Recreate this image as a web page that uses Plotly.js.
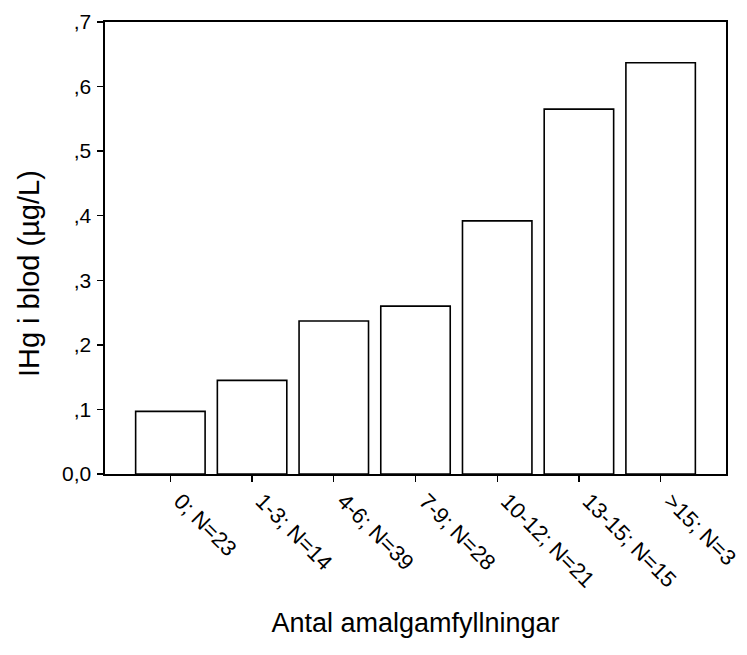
<!DOCTYPE html>
<html>
<head>
<meta charset="utf-8">
<script src="https://cdn.plot.ly/plotly-3.0.1.min.js"></script>
<style>html,body{margin:0;padding:0;background:#fff;}#chart{width:747px;height:655px;}</style>
</head>
<body>
<div id="chart"></div>
<script>
const categories = ["0; N=23", "1-3; N=14", "4-6; N=39", "7-9; N=28", "10-12; N=21", "13-15; N=15", ">15; N=3"];
const values = [0.097, 0.145, 0.237, 0.260, 0.392, 0.565, 0.637];
const yTickVals = [0, 0.1, 0.2, 0.3, 0.4, 0.5, 0.6, 0.7];
const yTickText = ["0,0", ",1", ",2", ",3", ",4", ",5", ",6", ",7"];
const xTitle = "Antal amalgamfyllningar";
const yTitle = "IHg i blod (µg/L)";

const trace = {
  type: "bar",
  x: categories,
  y: values,
  width: 0.85,
  marker: {color: "#ffffff", line: {color: "#000000", width: 1.6}},
  hoverinfo: "none"
};

const fontFam = "Liberation Sans, Arial, sans-serif";
const layout = {
  width: 747, height: 655,
  margin: {l: 105, r: 21, t: 22, b: 181},
  paper_bgcolor: "#ffffff", plot_bgcolor: "#ffffff",
  showlegend: false,
  font: {family: fontFam, color: "#000000"},
  xaxis: {
    type: "category",
    range: [-0.8, 6.8],
    showline: true, linecolor: "#000000", linewidth: 1.6, mirror: true,
    ticks: "outside", ticklen: 6, tickwidth: 1.3, tickcolor: "#000000",
    tickangle: 45,
    ticklabelshift: 10,
    ticklabelstandoff: -2,
    tickfont: {family: fontFam, size: 22, color: "#000000"},
    showgrid: false, zeroline: false,
    title: {text: xTitle, font: {family: fontFam, size: 27, color: "#000000"}, standoff: 22}
  },
  yaxis: {
    range: [0, 0.7],
    tickvals: yTickVals, ticktext: yTickText,
    showline: true, linecolor: "#000000", linewidth: 1.6, mirror: true,
    ticks: "outside", ticklen: 6, tickwidth: 1.3, tickcolor: "#000000",
    ticklabelstandoff: 2,
    tickfont: {family: fontFam, size: 21, color: "#000000"},
    showgrid: false, zeroline: false
  },
  annotations: [{
    text: yTitle, textangle: -90,
    xref: "paper", yref: "y",
    x: -0.122, y: 0.31,
    xanchor: "center", yanchor: "middle",
    showarrow: false,
    font: {family: fontFam, size: 29, color: "#000000"}
  }]
};

Plotly.newPlot("chart", [trace], layout, {displayModeBar: false, staticPlot: true});
</script>
</body>
</html>
